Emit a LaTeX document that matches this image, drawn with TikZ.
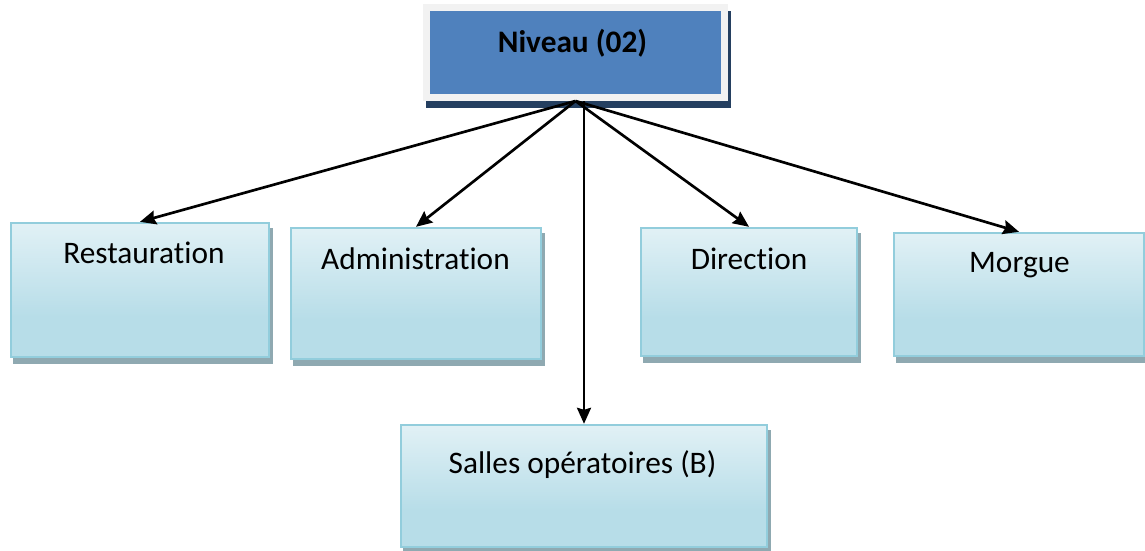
\documentclass[tikz,border=0pt]{standalone}
\usepackage{fontspec}
\setmainfont{Carlito}[Ligatures=NoCommon]
\usetikzlibrary{arrows.meta,shadows}

\definecolor{nivblue}{HTML}{4F81BD}
\definecolor{nivframe}{HTML}{F2F2F2}
\definecolor{nivshadow}{HTML}{243F60}
\definecolor{boxblue}{HTML}{B7DDE8}
\definecolor{boxline}{HTML}{92CDDC}
\definecolor{boxshadow}{HTML}{8FA9B1}
\pgfdeclareverticalshading{boxshade}{100bp}{color(0bp)=(boxblue); color(40bp)=(boxblue); color(100bp)=(white)}

\begin{document}
\begin{tikzpicture}[x=0.75pt,y=-0.75pt,
    niveau/.style={fill=nivblue, draw=nivframe, line width=5.25pt, inner sep=0pt,
        drop shadow={shadow xshift=2.25pt, shadow yshift=-5.25pt, fill=nivshadow, draw=nivshadow, line width=5.25pt, opacity=1}},
    salle/.style={draw=boxline, line width=1.8pt, shading=boxshade, inner sep=0pt,
        drop shadow={shadow xshift=2.25pt, shadow yshift=-4.5pt, fill=boxshadow, draw=boxshadow, line width=1.8pt, opacity=1}},
    lbl/.style={font=\fontsize{23.5}{28}\selectfont, inner sep=0pt, anchor=base},
    fleche/.style={line width=2pt, -{Stealth[length=12pt,width=10.5pt,inset=1.5pt]}}]

    \useasboundingbox (0,0) rectangle (1145,550);

    % Boxes
    \node[niveau, minimum width=223.5pt, minimum height=67.5pt] (niv) at (575.5,52.5) {};
    \node[salle, minimum width=193.5pt, minimum height=100.5pt] (rest) at (140,290) {};
    \node[salle, minimum width=187.5pt, minimum height=98.25pt] (admin) at (416,293.5) {};
    \node[salle, minimum width=162pt, minimum height=96pt] (dir) at (749,292) {};
    \node[salle, minimum width=187.5pt, minimum height=92.25pt] (morgue) at (1019,294.5) {};
    \node[salle, minimum width=274.5pt, minimum height=91.5pt] (salles) at (584,486) {};

    % Text
    \node[lbl, font=\fontsize{23.5}{28}\selectfont\bfseries] (niv-t) at (572.5,52) {Niveau (02)};
    \node[lbl] (rest-t) at (144,263) {Restauration};
    \node[lbl] (admin-t) at (415.5,269) {Administration};
    \node[lbl] (dir-t) at (749,269) {Direction};
    \node[lbl] (morgue-t) at (1019.5,272) {Morgue};
    \node[lbl] (salles-t) at (582.5,473) {Salles opératoires (B)};

    % Arrows
    \draw[fleche] (niv.south) -- (rest.north);
    \draw[fleche] (niv.south) -- (admin.north);
    \draw[fleche] (salles.north |- niv.south) -- (salles.north);
    \draw[fleche] (niv.south) -- (dir.north);
    \draw[fleche] (niv.south) -- (morgue.north);

\end{tikzpicture}
\end{document}
